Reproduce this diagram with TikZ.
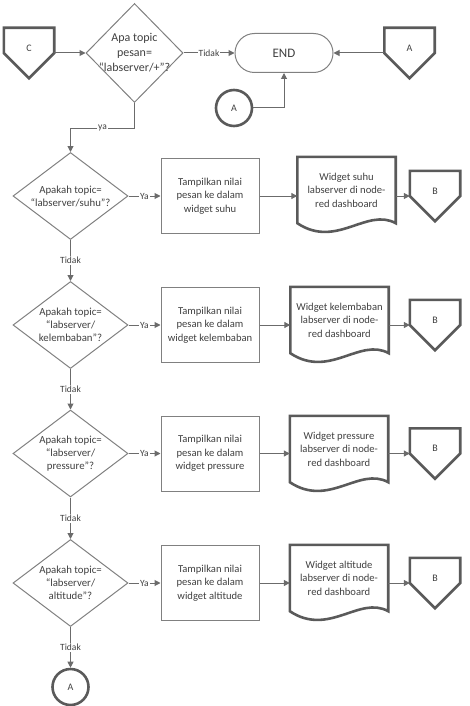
\documentclass[tikz,border=0pt]{standalone}
\usepackage{fontspec}
\setmainfont{Carlito}
\usetikzlibrary{shapes.geometric,arrows.meta,calc}
\definecolor{thinln}{HTML}{808080}
\definecolor{thickln}{HTML}{5A5A5A}
\definecolor{arrln}{HTML}{6B6B6B}
\definecolor{txt}{HTML}{404040}
\newcommand\docoutline[1]{\draw[thickshape] (#1.south west) -- (#1.north west) -- (#1.north east) -- (#1.south east) .. controls ($(#1.south east)+(-29,-16)$) and ($(#1.south west)+(39,26)$) .. (#1.south west) -- cycle;}
\newcommand\offpage[1]{\draw[thickshape] (#1.north west) -- (#1.north east) -- (#1.east) -- (#1.south) -- (#1.west) -- cycle;}
\begin{document}
\begin{tikzpicture}[x=1pt,y=-1pt,
  every node/.style={text=txt},
  thinshape/.style={draw=thinln,line width=1pt},
  thickshape/.style={draw=thickln,line width=2.6pt,line join=miter},
  dec/.style={diamond,thinshape,inner sep=0pt,minimum width=115pt,minimum height=87pt},
  dectext/.style={align=center,font=\fontsize{10.8}{13}\selectfont,text=txt},
  proc/.style={rectangle,thinshape,minimum width=98pt,minimum height=75pt,inner sep=0pt,align=center,font=\fontsize{10.6}{13.5}\selectfont},
  doc/.style={rectangle,minimum width=98pt,minimum height=66pt,inner sep=0pt,align=center,font=\fontsize{10.6}{13.5}\selectfont},
  offpg/.style={rectangle,minimum size=50pt,inner sep=0pt},
  offtxt/.style={font=\fontsize{10}{12}\selectfont,yshift=5pt,text=txt},
  conn/.style={circle,thickshape,minimum size=36pt,inner sep=0pt,font=\fontsize{10}{12}\selectfont},
  arr/.style={draw=arrln,line width=1pt,-{Triangle[length=6pt,width=6pt]}},
  lab/.style={fill=white,inner sep=1pt,font=\fontsize{9.5}{11}\selectfont,text=txt}]
\useasboundingbox (0,0) rectangle (470,706);
% top row
\node[offpg,label={[offtxt]center:C}] (C) at (29,53) {};
\offpage{C}
\node[diamond,thinshape,inner sep=0pt,minimum width=97pt,minimum height=99pt,
  label={[align=center,font=\fontsize{12}{15}\selectfont,text=txt]center:Apa topic\\pesan=\\“labserver/+”?}] (D1) at (134.5,53) {};
\node[rectangle,rounded corners=19.5pt,thinshape,minimum width=98pt,minimum height=39pt,font=\fontsize{13}{15}\selectfont] (END) at (284,53) {END};
\node[offpg,label={[offtxt]center:A}] (offA) at (409.5,53) {};
\offpage{offA}
\node[conn] (cA1) at (234,108) {A};
% rows
\node[dec,label={[dectext]center:Apakah topic=\\“labserver/suhu”?}] (D2) at (70.5,196) {};
\node[proc] (P1) at (210,196) {Tampilkan nilai\\pesan ke dalam\\widget suhu};
\node[doc] (Doc1) at (346.5,190) {Widget suhu\\labserver di node-\\red dashboard};
\docoutline{Doc1}
\node[offpg,label={[offtxt]center:B}] (B1) at (435,196) {};
\offpage{B1}

\node[dec,label={[dectext]center:Apakah topic=\\“labserver/\\kelembaban”?}] (D3) at (70.5,325) {};
\node[proc] (P2) at (210,325) {Tampilkan nilai\\pesan ke dalam\\widget kelembaban};
\node[doc] (Doc2) at (339.5,320) {Widget kelembaban\\labserver di node-\\red dashboard};
\docoutline{Doc2}
\node[offpg,label={[offtxt]center:B}] (B2) at (435,325) {};
\offpage{B2}

\node[dec,label={[dectext]center:Apakah topic=\\“labserver/\\pressure”?}] (D4) at (70.5,453.5) {};
\node[proc] (P3) at (210,453.5) {Tampilkan nilai\\pesan ke dalam\\widget pressure};
\node[doc] (Doc3) at (339,449) {Widget pressure\\labserver di node-\\red dashboard};
\docoutline{Doc3}
\node[offpg,label={[offtxt]center:B}] (B3) at (435,453.5) {};
\offpage{B3}

\node[dec,label={[dectext]center:Apakah topic=\\“labserver/\\altitude”?}] (D5) at (70.5,583) {};
\node[proc] (P4) at (210,583) {Tampilkan nilai\\pesan ke dalam\\widget altitude};
\node[doc] (Doc4) at (339,578) {Widget altitude\\labserver di node-\\red dashboard};
\docoutline{Doc4}
\node[offpg,label={[offtxt]center:B}] (B4) at (435,583) {};
\offpage{B4}

\node[conn] (cA2) at (70.5,687) {A};
% connectors
\draw[arr] (C.east) -- (D1.west);
\draw[arr] (D1.east) -- node[lab]{Tidak} (END.west);
\draw[arr] (offA.west) -- (END.east);
\draw[arr] (cA1.east) -| (END.south);
\draw[arr] (D1.south) -- ++(0,25) -| node[lab,pos=0.25]{ya} (D2.north);
\foreach \d/\p/\dc/\b in {D2/P1/Doc1/B1,D3/P2/Doc2/B2,D4/P3/Doc3/B3,D5/P4/Doc4/B4}{
  \draw[arr] (\d.east) -- node[lab]{Ya} (\p.west);
  \draw[arr] (\p.east) -- (\p.east -| \dc.west);
  \draw[arr] (\b.west -| \dc.east) -- (\b.west);
}
\draw[arr] (D2.south) -- node[lab]{Tidak} (D3.north);
\draw[arr] (D3.south) -- node[lab]{Tidak} (D4.north);
\draw[arr] (D4.south) -- node[lab]{Tidak} (D5.north);
\draw[arr] (D5.south) -- node[lab]{Tidak} (cA2.north);
\end{tikzpicture}
\end{document}
